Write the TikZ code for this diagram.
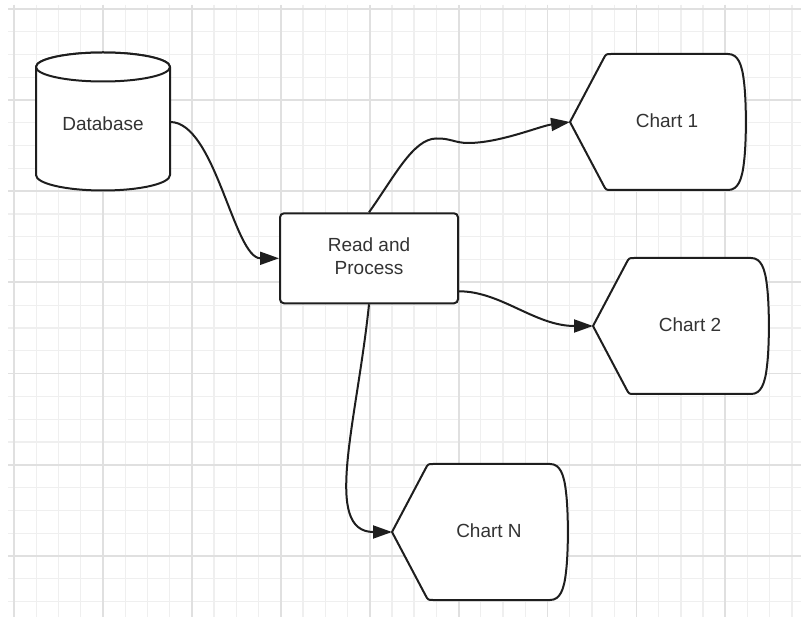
\documentclass[tikz,border=0pt]{standalone}
\usepackage{fontspec}
\setmainfont{Liberation Sans}
\usetikzlibrary{arrows.meta}

\definecolor{ink}{HTML}{1E1E1E}
\definecolor{txt}{HTML}{333333}
\definecolor{gridminor}{HTML}{EFEFEF}
\definecolor{gridmajor}{HTML}{E0E0E0}

\tikzset{
  minorline/.style={draw=gridminor, line width=1.3pt},
  majorline/.style={draw=gridmajor, line width=1.8pt},
  shapeline/.style={draw=ink, line width=2pt, fill=white, line join=round},
  label/.style={text=txt, font=\fontsize{19}{23.4}\selectfont, align=center, inner sep=0pt},
  conn/.style={draw=ink, line width=2pt, -{Triangle[length=19pt,width=13pt]}},
  pics/chartbox/.style={code={
    \draw[shapeline] (0,0) -- (33.4,-63.1) .. controls (36,-68) .. (41,-68)
      -- (158,-68) .. controls (168,-68) and (172,-58) .. (174,-40)
      .. controls (176.5,-20) and (176.5,20) .. (174,40)
      .. controls (172,58) and (168,68) .. (158,68)
      -- (41,68) .. controls (36,68) .. (33.4,63.1) -- cycle;
    \node[label] (-label) at (97,-1.5) {#1};
    \coordinate (-tip) at (0,0);
  }}
}

\begin{document}
\begin{tikzpicture}[x=1pt, y=-1pt]
  \useasboundingbox (0,0) rectangle (801,617);
  \fill[white] (0,0) rectangle (801,617);

  % background grid
  \foreach \k in {0,...,35} \draw[minorline] ({14+22.23*\k},5) -- ({14+22.23*\k},617);
  \foreach \k in {0,...,26} \draw[minorline] (8,{8.8+22.8*\k}) -- (801,{8.8+22.8*\k});
  \foreach \k in {0,4,...,32} \draw[majorline] ({14+22.23*\k},5) -- ({14+22.23*\k},617);
  \foreach \k in {0,4,...,24} \draw[majorline] (8,{8.8+22.8*\k}) -- (801,{8.8+22.8*\k});

  % database cylinder: body with rounded bottom, then the top ellipse
  \draw[shapeline] (36,67) -- (36,175)
    .. controls (36,183.6) and (66,190.5) .. (103,190.5)
    .. controls (140,190.5) and (170,183.6) .. (170,175)
    -- (170,67)
    .. controls (170,59) and (140,52.5) .. (103,52.5)
    .. controls (66,52.5) and (36,59) .. (36,67) -- cycle;
  \draw[shapeline] (36,67)
    .. controls (36,75) and (66,81.5) .. (103,81.5)
    .. controls (140,81.5) and (170,75) .. (170,67)
    .. controls (170,59) and (140,52.5) .. (103,52.5)
    .. controls (66,52.5) and (36,59) .. (36,67) -- cycle;
  \node[label, minimum width=134pt, minimum height=100pt] (db) at (103,124) {Database};

  % processing step
  \node[label, draw=ink, line width=2pt, fill=white, rounded corners=4pt,
        minimum width=178pt, minimum height=90pt] (rp) at (369,258.3)
        {\raisebox{3pt}{\begin{tabular}{@{}c@{}}Read and\\Process\end{tabular}}};

  % output charts
  \pic (c1) at (570,122) {chartbox=Chart 1};
  \pic (c2) at (593,326) {chartbox=Chart 2};
  \pic (cn) at (392,532) {chartbox=Chart N};

  % connectors
  \draw[conn] ([yshift=2pt]db.east) .. controls +(45,0) and +(-45,0) .. (rp.west);
  \draw[conn] (rp.north) .. controls +(25,-35) and (413,139) .. (436,138.5)
    .. controls (450,138) and (455,143) .. (468,143)
    .. controls (500,143) and (540,126) .. (c1-tip);
  \draw[conn] ([yshift=-33pt]rp.east) .. controls +(42,0) and +(-58,0) .. (c2-tip);
  \draw[conn] (rp.south) .. controls +(-12,117) and +(-70,0) .. (cn-tip);
\end{tikzpicture}
\end{document}
